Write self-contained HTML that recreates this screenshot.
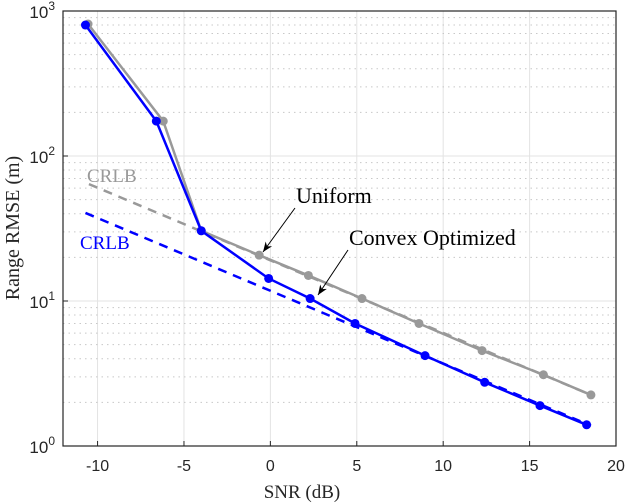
<!DOCTYPE html>
<html><head><meta charset="utf-8"><style>
html,body{margin:0;padding:0;background:#fff;}
svg{display:block;}
text{font-family:"Liberation Sans",sans-serif;}
.serif{font-family:"Liberation Serif",serif;}
</style></head><body>
<svg id="chart" width="628" height="504" viewBox="0 0 628 504" xmlns="http://www.w3.org/2000/svg">
<defs>
<marker id="ah" viewBox="0 0 10 10" refX="10" refY="5" markerWidth="10" markerHeight="10" orient="auto" markerUnits="userSpaceOnUse"><path d="M0,1 L10,5 L0,9 L3,5 Z" fill="#000"/></marker>
</defs>
<g id="grid"></g>
<g id="series"></g>
<rect x="63" y="11" width="553" height="435" fill="none" stroke="#262626" stroke-width="1.2"/>
<g id="ticks"></g>
<text class="serif" x="302" y="498" font-size="19" text-anchor="middle" fill="#262626">SNR (dB)</text>
<text class="serif" transform="translate(19,228) rotate(-90)" font-size="20" text-anchor="middle" fill="#262626">Range RMSE (m)</text>
<text class="serif" x="87" y="182" font-size="19" fill="#999">CRLB</text>
<text class="serif" x="80" y="249" font-size="19" fill="#0000ff">CRLB</text>
<text class="serif" x="296" y="203" font-size="22" fill="#000">Uniform</text>
<line x1="295" y1="208" x2="263" y2="252" stroke="#000" stroke-width="1" marker-end="url(#ah)"/>
<text class="serif" x="349" y="245" font-size="22" fill="#000">Convex Optimized</text>
<line x1="348" y1="250" x2="318" y2="295" stroke="#000" stroke-width="1" marker-end="url(#ah)"/>
</svg>
<script>
const uniformSNR=[-10.55,-6.2,-4.0,-0.65,2.2,5.3,8.6,12.25,15.8,18.55];
const uniformRMSE=[813,174,30.5,20.7,15,10.4,7.0,4.55,3.1,2.25];
const convexSNR=[-10.7,-6.6,-4.0,-0.1,2.3,4.9,8.95,12.4,15.6,18.3];
const convexRMSE=[800,174,30.5,14.3,10.4,7.0,4.2,2.75,1.9,1.4];
const crlbUniformSNR=[-10.5,18.55];
const crlbUniformRMSE=[64,2.25];
const crlbConvexSNR=[-10.7,18.55];
const crlbConvexRMSE=[40.5,1.38];
const xTicks=[-10,-5,0,5,10,15,20];
const yDecades=[0,1,2,3];

const NS="http://www.w3.org/2000/svg";
const X0=63,X1=616,Y0=446,Y1=11;
const xs=v=>X0+(v+12)/32*(X1-X0);
const ys=v=>Y0-Math.log10(v)/3*(Y0-Y1);
function mk(tag,attrs,parent){const e=document.createElementNS(NS,tag);for(const k in attrs)e.setAttribute(k,attrs[k]);parent.appendChild(e);return e;}
const grid=document.getElementById('grid'),series=document.getElementById('series'),ticks=document.getElementById('ticks');

xTicks.forEach(t=>{
  if(t>-12&&t<20){const l=mk('line',{x1:xs(t),x2:xs(t),y1:Y1,y2:Y0,stroke:'#e3e3e3','stroke-width':1},grid);
  
  }
  const tk=mk('line',{x1:xs(t),x2:xs(t),y1:Y0,y2:Y0-5,stroke:'#262626'},ticks);
  
  
  const tx=mk('text',{x:xs(t),y:Y0+25,'font-size':16,'text-anchor':'middle',fill:'#262626'},ticks);
  tx.textContent=String(t);
  
  
});
yDecades.forEach(d=>{
  const v=Math.pow(10,d);
  if(d>0&&d<3){const l=mk('line',{x1:X0,x2:X1,y1:ys(v),y2:ys(v),stroke:'#e3e3e3','stroke-width':1},grid);
  
  }
  if(d<3){for(let m=2;m<=9;m++){const l=mk('line',{x1:X0,x2:X1,y1:ys(v*m),y2:ys(v*m),stroke:'#c8c8c8','stroke-width':1,'stroke-dasharray':'1.5 4'},grid);
  
  }}
  const tk=mk('line',{x1:X0,x2:X0+5,y1:ys(v),y2:ys(v),stroke:'#262626'},ticks);
  
  
  const g=mk('text',{x:X0-8,y:ys(v)+7,'font-size':17,'text-anchor':'end',fill:'#262626'},ticks);
  
  
  const a=document.createElementNS(NS,'tspan');a.textContent='10';g.appendChild(a);
  const b=document.createElementNS(NS,'tspan');b.setAttribute('dy','-8');b.setAttribute('font-size','12');b.textContent=String(d);g.appendChild(b);
});

function line(xa,ya,color,dash,name){
  const pts=xa.map((x,i)=>xs(x)+','+ys(ya[i])).join(' ');
  const p=mk('polyline',{points:pts,fill:'none',stroke:color,'stroke-width':2.5},series);
  if(dash)p.setAttribute('stroke-dasharray',dash);
  
  
}
function markers(xa,ya,color,name){
  xa.forEach((x,i)=>{
    const c=mk('circle',{cx:xs(x),cy:ys(ya[i]),r:4.5,fill:color},series);
    
    
  });
}
line(crlbUniformSNR,crlbUniformRMSE,'#999','9 7','crlb-uniform-line');
line(crlbConvexSNR,crlbConvexRMSE,'#0000ff','9 7','crlb-convex-line');
line(uniformSNR,uniformRMSE,'#999',null,'uniform-line');
markers(uniformSNR,uniformRMSE,'#999','uniform-marker');
line(convexSNR,convexRMSE,'#0000ff',null,'convex-line');
markers(convexSNR,convexRMSE,'#0000ff','convex-marker');
</script>
</body></html>
